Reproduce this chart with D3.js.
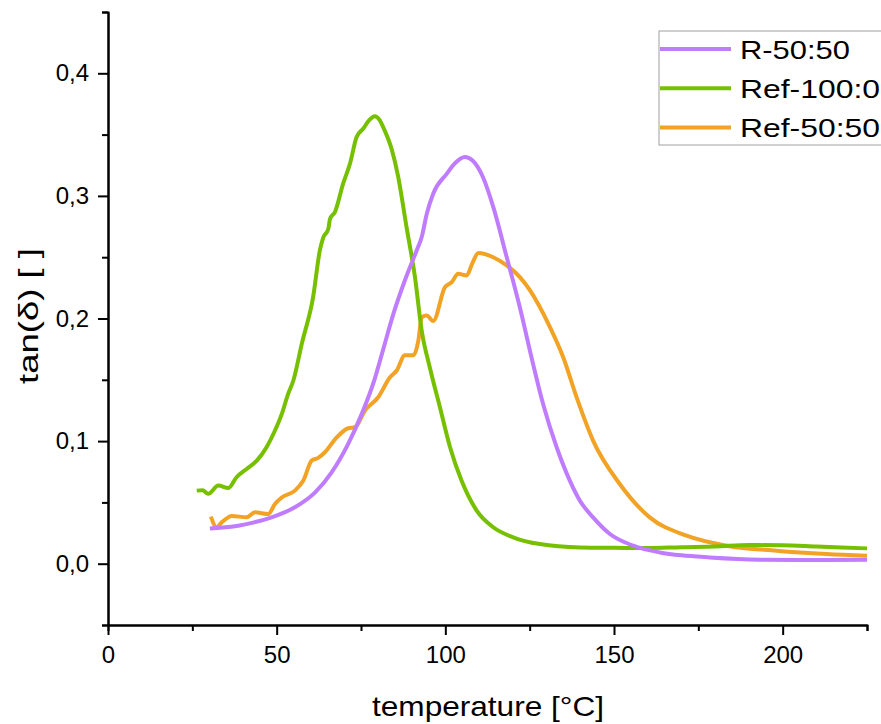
<!DOCTYPE html>
<html>
<head>
<meta charset="utf-8">
<script src="https://cdn.jsdelivr.net/npm/d3@7.9.0/dist/d3.min.js"></script>
<style>
  body { margin: 0; background: #fff; }
  text { font-family: Arial, "Liberation Sans", sans-serif; fill: #000; }
</style>
</head>
<body>
<svg id="chart" width="881" height="724"></svg>
<script>
// R-50:50
const rT = [30.2, 34, 38.6, 43, 48.5, 55.4, 61.4, 66.3, 71.2, 75.2, 79.1, 81.5, 84.6, 88, 91.5, 93, 94.5, 96.4, 100.4, 103, 105.8, 108, 111.2, 114.2, 118.2, 122.1, 126, 129, 133, 136.9, 139.9, 143.8, 148.8, 155.7, 163.6, 170, 178.4, 193.2, 210, 225];
const rVals = [0.0288, 0.0295, 0.031, 0.0335, 0.0378, 0.046, 0.0582, 0.0745, 0.0977, 0.122, 0.151, 0.174, 0.2038, 0.231, 0.2555, 0.2664, 0.2855, 0.3018, 0.318, 0.327, 0.3317, 0.329, 0.315, 0.291, 0.25, 0.209, 0.163, 0.13, 0.095, 0.0678, 0.0514, 0.0378, 0.0242, 0.0147, 0.0092, 0.0068, 0.0051, 0.0033, 0.003, 0.0033];

// Ref-100:0
const ref100T = [26.3, 28, 29.7, 32.7, 35.7, 38.1, 41.1, 44.1, 47, 49.5, 51.5, 53.4, 54.9, 57.5, 60.8, 62.8, 63.8, 65.3, 65.8, 67.3, 69.7, 71.7, 73.7, 75.7, 77.5, 79.1, 80.5, 81.6, 84.1, 86, 88.5, 91, 93, 95.4, 98.4, 101.4, 104.8, 109.3, 114.2, 120.1, 128, 140, 150, 160, 170, 180, 190, 200, 210, 225];
const ref100Vals = [0.0596, 0.06, 0.057, 0.0637, 0.0618, 0.0705, 0.0773, 0.084, 0.095, 0.1086, 0.122, 0.1385, 0.149, 0.18, 0.2174, 0.2555, 0.266, 0.273, 0.281, 0.287, 0.31, 0.326, 0.348, 0.355, 0.362, 0.365, 0.362, 0.356, 0.338, 0.316, 0.2745, 0.2337, 0.19, 0.16, 0.1276, 0.095, 0.0678, 0.0433, 0.0297, 0.0215, 0.016, 0.0133, 0.013, 0.0128, 0.0135, 0.014, 0.0152, 0.015, 0.014, 0.0125];

// Ref-50:50
const ref50T = [30.5, 32.2, 33.7, 36.7, 41.1, 43.6, 47.5, 49.5, 51.5, 55.4, 57.9, 60.4, 62.3, 64.3, 67.8, 71.2, 73.2, 76.2, 80.1, 83.6, 85.6, 88, 90.5, 92, 93, 94.5, 96.4, 99.9, 101.9, 103.8, 106.3, 108, 109.8, 114.2, 118.2, 122.1, 125.1, 131, 135, 138.9, 143.8, 151.7, 160.6, 171.5, 183.4, 198.2, 213, 225];
const ref50Vals = [0.0384, 0.0297, 0.0337, 0.039, 0.0378, 0.0419, 0.0405, 0.0487, 0.054, 0.0596, 0.0678, 0.0841, 0.0863, 0.0909, 0.103, 0.1105, 0.1113, 0.125, 0.1358, 0.152, 0.1576, 0.17, 0.17, 0.182, 0.201, 0.2025, 0.198, 0.2255, 0.2296, 0.2365, 0.235, 0.245, 0.2535, 0.25, 0.2433, 0.2337, 0.2229, 0.193, 0.168, 0.1358, 0.1004, 0.065, 0.0378, 0.0229, 0.0147, 0.0106, 0.0079, 0.0065];

const seriesNames = ['R-50:50', 'Ref-100:0', 'Ref-50:50'];
const seriesColors = ['#c07cff', '#76c000', '#f2a325'];

const xTicks = [0, 50, 100, 150, 200];
const xMinor = [25, 75, 125, 175, 225];
const yTicks = [0, 0.1, 0.2, 0.3, 0.4];
const yMinor = [-0.05, 0.05, 0.15, 0.25, 0.35, 0.45];

let svg = d3.select('#chart');
let plotLeft = 108, plotRight = 867, plotTop = 12, plotBottom = 625;

let x = d3.scaleLinear().domain([0, 225]).range([plotLeft, plotRight]);
let y = d3.scaleLinear().domain([-0.05, 0.45]).range([plotBottom, plotTop]);

let comma = (d) => d3.format('.1f')(d).replace('.', ',');

// minor ticks first, then major
let xMinorAxis = svg.append('g').attr('transform', `translate(0,${plotBottom})`)
    .call(d3.axisBottom(x).tickValues(xMinor).tickSize(6).tickFormat(''));
let yMinorAxis = svg.append('g').attr('transform', `translate(${plotLeft},0)`)
    .call(d3.axisLeft(y).tickValues(yMinor).tickSize(6).tickFormat(''));

let xAxis = svg.append('g').attr('transform', `translate(0,${plotBottom})`)
    .call(d3.axisBottom(x).tickValues(xTicks).tickSize(10).tickSizeOuter(0).tickPadding(11));
let yAxis = svg.append('g').attr('transform', `translate(${plotLeft},0)`)
    .call(d3.axisLeft(y).tickValues(yTicks).tickSize(10).tickSizeOuter(0).tickPadding(9).tickFormat(comma));

[xMinorAxis, yMinorAxis, xAxis, yAxis].forEach((g) => {
    g.selectAll('path').attr('stroke', '#000').attr('stroke-width', 2);
    g.selectAll('line').attr('stroke', '#000').attr('stroke-width', 2);
    g.selectAll('text').style('font-size', '24px').attr('fill', '#000');
});

// curves
let line = d3.line()
    .x((d) => x(d[0]))
    .y((d) => y(d[1]))
    .curve(d3.curveMonotoneX);

let series = [
    rT.map((t, i) => [t, rVals[i]]),
    ref100T.map((t, i) => [t, ref100Vals[i]]),
    ref50T.map((t, i) => [t, ref50Vals[i]])
];

// draw order: orange under, green, purple on top
[2, 1, 0].forEach((idx) => {
    svg.append('path')
        .attr('d', line(series[idx]))
        .attr('fill', 'none')
        .attr('stroke', seriesColors[idx])
        .attr('stroke-width', 4)
        .attr('stroke-linejoin', 'round');
});

// axis titles
svg.append('text')
    .attr('x', 488).attr('y', 716)
    .attr('text-anchor', 'middle')
    .attr('textLength', 232).attr('lengthAdjust', 'spacingAndGlyphs')
    .style('font-size', '28px')
    .text('temperature [°C]');

svg.append('text')
    .attr('transform', 'translate(38,316) rotate(-90)')
    .attr('text-anchor', 'middle')
    .attr('textLength', 136).attr('lengthAdjust', 'spacingAndGlyphs')
    .style('font-size', '27px')
    .text('tan(δ) [ ]');

// legend
let legend = svg.append('g');
legend.append('rect')
    .attr('x', 659).attr('y', 31).attr('width', 230).attr('height', 114)
    .attr('fill', '#fff').attr('stroke', '#a0a0a0').attr('stroke-width', 1);

const legendWidths = [110, 140, 140];
seriesNames.forEach((name, idx) => {
    let ly = 49 + idx * 39.2;
    legend.append('line')
        .attr('x1', 660).attr('x2', 731)
        .attr('y1', ly).attr('y2', ly)
        .attr('stroke', seriesColors[idx]).attr('stroke-width', 4);
    legend.append('text')
        .attr('x', 740).attr('y', ly + 9.5)
        .attr('textLength', legendWidths[idx]).attr('lengthAdjust', 'spacingAndGlyphs')
        .style('font-size', '26px')
        .text(name);
});
</script>
</body>
</html>
